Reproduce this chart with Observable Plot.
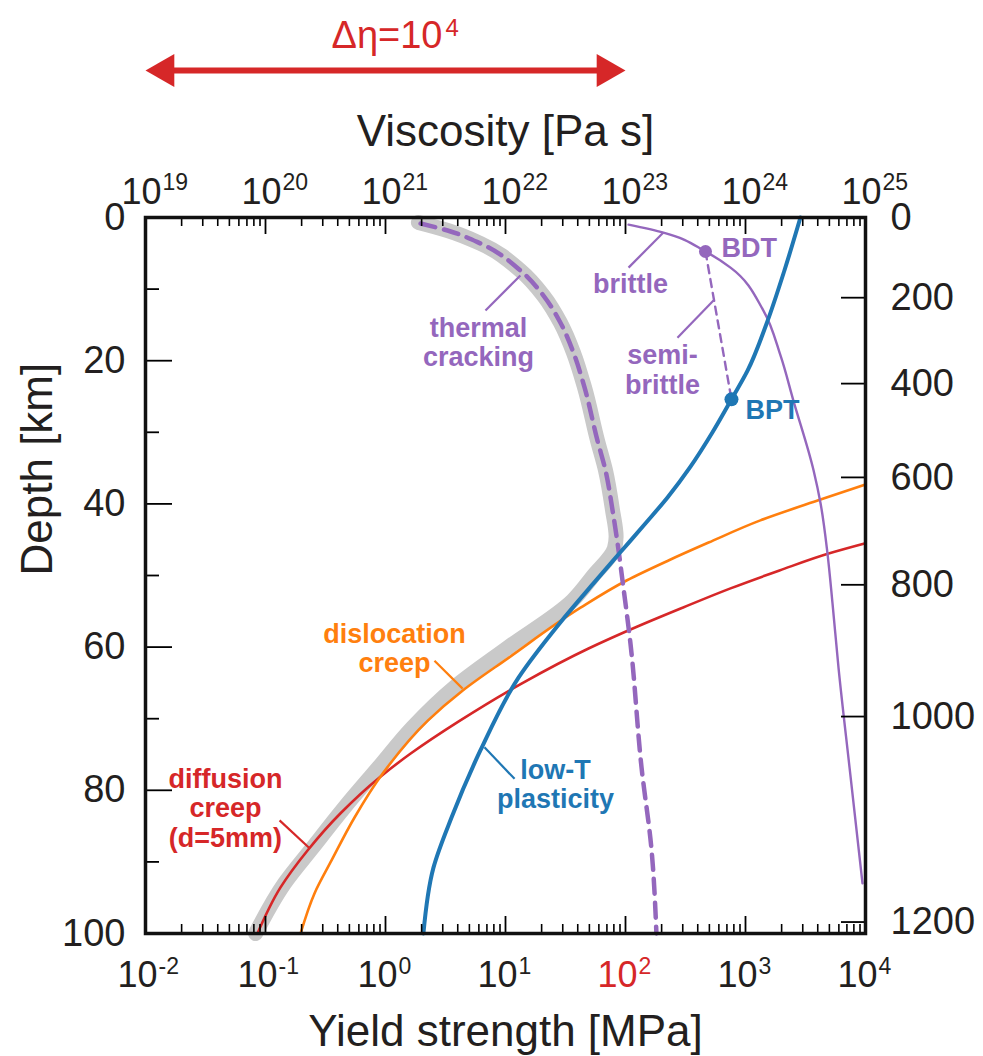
<!DOCTYPE html>
<html>
<head>
<meta charset="utf-8">
<script src="https://cdn.jsdelivr.net/npm/d3@7"></script>
<script src="https://cdn.jsdelivr.net/npm/@observablehq/plot@0.6"></script>
<style>
  html, body { margin: 0; padding: 0; background: #fff; }
  #chart svg { display: block; }
</style>
</head>
<body>
<div id="chart"></div>
<script>
// ---------------- data (strength in MPa, depth in km) ----------------
const lowTDepth    = [0, 7.4, 14.8, 21.4, 25.4, 30.0, 34.8, 39.1, 42.7, 46.9, 51.1, 56.7, 64.3, 74.4, 83.8, 90.8, 100];
const lowTStrength = [2870, 2110, 1500, 1040, 764, 531, 348, 224, 147, 89.1, 54.1, 28.2, 12.8, 6.19, 3.55, 2.51, 2.07];

const dislDepth    = [37.3, 39.4, 42.3, 45.4, 47.9, 50.7, 54.5, 61.5, 66.1, 70.3, 77.7, 83.8, 89.8, 94.4, 100];
const dislStrength = [10000, 4220, 1330, 492, 228, 102, 42.2, 10.6, 4.38, 2.24, 0.944, 0.552, 0.355, 0.256, 0.196];

const diffDepth    = [45.5, 46.9, 49.3, 51.8, 54.5, 57.3, 60.2, 65.1, 70.3, 74.9, 78.2, 83.2, 88.4, 93.6, 100];
const diffStrength = [10000, 5010, 1920, 750, 299, 119, 49.2, 13.6, 4.14, 1.61, 0.891, 0.422, 0.224, 0.133, 0.0857];

const brittleDepth    = [1.0, 2.1, 4.75, 7.0, 13.0, 19.3, 25.6, 35.3, 39.9, 46.9, 53.9, 62.9, 76.8, 93.0];
const brittleStrength = [106, 207, 464, 750, 1410, 1960, 2510, 3690, 4220, 4820, 5310, 5960, 7360, 9440];

const semiDepth    = [4.75, 25.4];
const semiStrength = [464, 764];

const thermalDepth    = [0.84, 1.82, 3.63, 7.4, 10.9, 14.7, 18.9, 23.7, 31.2, 35.3, 40.9, 45.4, 50.7, 59.5, 76.8, 88.4, 100];
const thermalStrength = [1.96, 3.29, 6.19, 13.3, 20.7, 28.7, 36.9, 45.5, 58.5, 68.1, 78.0, 85.7, 94.4, 110, 136, 165, 181];

const envDepth    = [0.7, 1.82, 3.63, 7.4, 10.9, 14.7, 18.9, 23.7, 31.2, 35.3, 40.9, 44.6, 46.2, 50.0, 53.5, 60.1, 65.6, 71.2, 76.8, 82.4, 88.0, 93.0, 100];
const envStrength = [1.88, 3.29, 6.19, 13.3, 20.7, 28.7, 36.9, 45.5, 58.5, 68.1, 78.0, 83.5, 80.9, 54.1, 36.2, 10.4, 3.76, 1.68, 0.875, 0.455, 0.247, 0.144, 0.0826];

const pointNames    = ["BDT", "BPT"];
const pointStrength = [464, 764];
const pointDepth    = [4.75, 25.4];

// axis ticks and labels
const xMajor      = [1e-2, 1e-1, 1e0, 1e1, 1e2, 1e3, 1e4];
const xExpBottom  = ["-2", "-1", "0", "1", "2", "3", "4"];
const xExpTop     = ["19", "20", "21", "22", "23", "24", "25"];
const depthMajor  = [0, 20, 40, 60, 80, 100];
const depthMinor  = [10, 30, 50, 70, 90];
const tempLabels  = ["0", "200", "400", "600", "800", "1000", "1200"];
const tempDepth   = [0, 11.2, 23.2, 36.3, 51.3, 69.7, 98.4];
const arrowSpan   = [1e-2, 1e2];   // Δη = 10^4 span (10^19 .. 10^23 Pa s)

// curve annotations
const labelText  = ["thermal\ncracking", "brittle", "semi-\nbrittle", "dislocation\ncreep", "low-T\nplasticity", "diffusion\ncreep\n(d=5mm)"];
const labelX     = [5.96, 110, 203, 1.19, 26.1, 0.0464];
const labelY     = [20.7, 10.5, 24.6, 63.5, 82.5, 87.85];
const labelColor = ["purple", "purple", "purple", "orange", "blue", "red"];

const leaderX1 = [6.81, 106, 271, 2.56, 11.9, 0.131];
const leaderY1 = [13.0, 7.0, 16.8, 61.9, 78.4, 84.2];
const leaderX2 = [13.3, 207, 541, 4.39, 6.68, 0.233];
const leaderY2 = [8.1, 2.1, 11.6, 65.8, 74.0, 88.1];

// ---------------- styling ----------------
const C = {purple: "#9467bd", blue: "#1f77b4", orange: "#ff7f0e", red: "#d62728", gray: "#c9c9c9", ink: "#231f20"};
const W = 983, H = 1056;
const mL = 145, mR = 118, mT = 217, mB = 123;
const FW = W - mL - mR, FH = H - mT - mB;
const FONT = "'Liberation Sans', Arial, Helvetica, sans-serif";

const xMinor = xMajor.slice(0, -1).flatMap(m => [2, 3, 4, 5, 6, 7, 8, 9].map(k => k * m));

const curve = (s, d, o) => Plot.line(d, {x: s, y: d, curve: "monotone-y", ...o});

const labels = labelText.map((t, i) => ({t, x: labelX[i], y: labelY[i], c: C[labelColor[i]]}));
const leaders = leaderX1.map((x1, i) => ({x1, y1: leaderY1[i], x2: leaderX2[i], y2: leaderY2[i], c: C[labelColor[i]]}));
const bdt = [{n: pointNames[0], x: pointStrength[0], y: pointDepth[0]}];
const bpt = [{n: pointNames[1], x: pointStrength[1], y: pointDepth[1]}];

const headRight = {draw(ctx, size) { const r = Math.sqrt(size / Math.PI); ctx.moveTo(0, 0); ctx.lineTo(-2.4 * r, -1.38 * r); ctx.lineTo(-2.4 * r, 1.38 * r); ctx.closePath(); }};
const headLeft  = {draw(ctx, size) { const r = Math.sqrt(size / Math.PI); ctx.moveTo(0, 0); ctx.lineTo(2.4 * r, -1.38 * r); ctx.lineTo(2.4 * r, 1.38 * r); ctx.closePath(); }};

const chart = Plot.plot({
  width: W, height: H,
  marginLeft: mL, marginRight: mR, marginTop: mT, marginBottom: mB,
  style: {fontFamily: FONT, background: "#fff", overflow: "visible"},
  x: {type: "log", domain: [1e-2, 1e4], axis: null},
  y: {domain: [0, 100], reverse: true, axis: null},
  color: {type: "identity"},
  marks: [
    // envelope band
    curve(envStrength, envDepth, {stroke: C.gray, strokeWidth: 15, strokeLinejoin: "round"}),
    // flow laws
    curve(diffStrength, diffDepth, {stroke: C.red, strokeWidth: 2.6}),
    curve(dislStrength, dislDepth, {stroke: C.orange, strokeWidth: 2.6}),
    curve(brittleStrength, brittleDepth, {stroke: C.purple, strokeWidth: 2.4}),
    Plot.line(semiDepth, {x: semiStrength, y: semiDepth, stroke: C.purple, strokeWidth: 2.4, strokeDasharray: "8,6"}),
    curve(thermalStrength, thermalDepth, {stroke: C.purple, strokeWidth: 4.5, strokeDasharray: "15,9"}),
    curve(lowTStrength, lowTDepth, {stroke: C.blue, strokeWidth: 4}),
    // transition points
    Plot.dot(bdt, {x: "x", y: "y", r: 6.5, fill: C.purple, stroke: null}),
    Plot.dot(bpt, {x: "x", y: "y", r: 7, fill: C.blue, stroke: null}),
    Plot.text(bdt, {x: "x", y: "y", text: "n", fill: C.purple, fontSize: 27, fontWeight: "bold", textAnchor: "start", lineAnchor: "bottom", dx: 16, dy: 5}),
    Plot.text(bpt, {x: "x", y: "y", text: "n", fill: C.blue, fontSize: 27, fontWeight: "bold", textAnchor: "start", lineAnchor: "bottom", dx: 14, dy: 20}),
    // leaders
    Plot.link(leaders, {x1: "x1", y1: "y1", x2: "x2", y2: "y2", stroke: "c", strokeWidth: 2.2}),
    // curve labels
    Plot.text(labels, {x: "x", y: "y", text: "t", fill: "c", fontSize: 27, fontWeight: "bold", lineAnchor: "bottom", lineHeight: 1.08, textAnchor: "middle"}),
    // ticks: top/bottom
    Plot.ruleX(xMajor.slice(1, -1), {x: d => d, insetBottom: FH - 17, stroke: "#000", strokeWidth: 1.8}),
    Plot.ruleX(xMinor, {x: d => d, insetBottom: FH - 9, stroke: "#000", strokeWidth: 1.6}),
    Plot.ruleX(xMajor.slice(1, -1), {x: d => d, insetTop: FH - 17, stroke: "#000", strokeWidth: 1.8}),
    Plot.ruleX(xMinor, {x: d => d, insetTop: FH - 9, stroke: "#000", strokeWidth: 1.6}),
    // ticks: left/right
    Plot.ruleY(depthMajor.slice(1, -1), {y: d => d, insetRight: FW - 27, stroke: "#000", strokeWidth: 1.8}),
    Plot.ruleY(depthMinor, {y: d => d, insetRight: FW - 14, stroke: "#000", strokeWidth: 1.8}),
    Plot.ruleY(tempDepth.slice(1), {y: d => d, insetLeft: FW - 24, stroke: "#000", strokeWidth: 1.8}),
    Plot.frame({stroke: "#111", strokeWidth: 3.5}),
    // bottom tick labels
    Plot.text(xMajor, {x: d => d, text: () => "10", frameAnchor: "bottom", textAnchor: "end", lineAnchor: "bottom",
      dx: 12, dy: 53, fontSize: 36, fill: d => d === 100 ? C.red : C.ink}),
    Plot.text(xMajor, {x: d => d, text: xExpBottom, frameAnchor: "bottom", textAnchor: "start", lineAnchor: "bottom",
      dx: 13, dy: 40, fontSize: 23, fill: d => d === 100 ? C.red : C.ink}),
    // top tick labels
    Plot.text(xMajor, {x: d => d, text: () => "10", frameAnchor: "top", textAnchor: "end", lineAnchor: "bottom",
      dx: 16, dy: -14, fontSize: 36, fill: C.ink}),
    Plot.text(xMajor, {x: d => d, text: xExpTop, frameAnchor: "top", textAnchor: "start", lineAnchor: "bottom",
      dx: 17, dy: -28, fontSize: 23, fill: C.ink}),
    // left / right tick labels
    Plot.text(depthMajor, {y: d => d, text: d => String(d), frameAnchor: "left", textAnchor: "end", dx: -20, fontSize: 38, fill: C.ink}),
    Plot.text(tempDepth, {y: d => d, text: tempLabels, frameAnchor: "right", textAnchor: "start", dx: 25, fontSize: 38, fill: C.ink}),
    // axis titles
    Plot.text(["Viscosity [Pa s]"], {text: d => d, frameAnchor: "top", lineAnchor: "bottom", dy: -72, fontSize: 44, fill: C.ink}),
    Plot.text(["Yield strength [MPa]"], {text: d => d, frameAnchor: "bottom", lineAnchor: "bottom", dy: 112, fontSize: 44, fill: C.ink}),
    Plot.text(["Depth [km]"], {text: d => d, frameAnchor: "left", lineAnchor: "bottom", rotate: -90, dx: -94, fontSize: 44, fill: C.ink}),
    // Δη arrow
    Plot.ruleY([0], {x1: arrowSpan[0], x2: arrowSpan[1], dy: -147, insetLeft: 20, insetRight: 20, stroke: C.red, strokeWidth: 6}),
    Plot.dot([arrowSpan[0]], {x: d => d, frameAnchor: "top", dy: -147, symbol: headLeft, r: 12, fill: C.red, stroke: null}),
    Plot.dot([arrowSpan[1]], {x: d => d, frameAnchor: "top", dy: -147, symbol: headRight, r: 12, fill: C.red, stroke: null}),
    Plot.text([Math.sqrt(arrowSpan[0] * arrowSpan[1])], {x: d => d, text: () => "Δη=10", frameAnchor: "top", textAnchor: "end", lineAnchor: "bottom",
      dx: 57, dy: -170, fontSize: 38, fill: C.red}),
    Plot.text([Math.sqrt(arrowSpan[0] * arrowSpan[1])], {x: d => d, text: () => "4", frameAnchor: "top", textAnchor: "start", lineAnchor: "bottom",
      dx: 60, dy: -182, fontSize: 24, fill: C.red})
  ]
});

document.getElementById("chart").append(chart);
</script>
</body>
</html>
